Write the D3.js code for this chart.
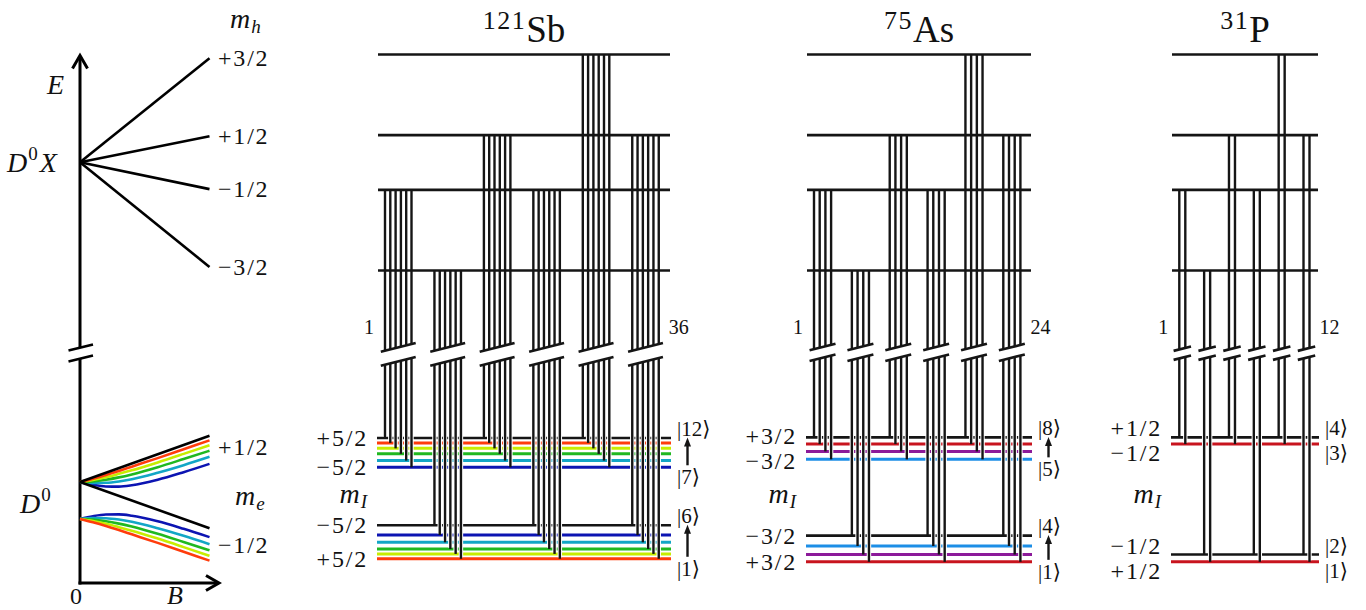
<!DOCTYPE html>
<html>
<head>
<meta charset="utf-8">
<script src="https://cdn.jsdelivr.net/npm/d3@7"></script>
<style>
  html, body { margin: 0; padding: 0; background: #fff; }
  svg { display: block; }
  text, tspan { font-family: "Liberation Serif", "DejaVu Serif", serif; fill: #111; }
</style>
</head>
<body>
<svg id="chart" width="1366" height="610"></svg>
<script>
// ---------------- data ----------------
// D0X hole Zeeman levels (arb. units, relative to zero field)
const mhLabels = ["+3/2", "+1/2", "\u22121/2", "\u22123/2"];
const mhEnergy = [104, 26, -27, -105];

// D0 Breit-Rabi fan for 121Sb (field in arb. units, energy in units of A/2)
const bField = [0, 0.25, 0.5, 0.75, 1, 1.5, 2, 2.5];
const d0StretchUp = [0, 2.5];          // m_e=+1/2, m_I=+5/2 (linear)
const d0StretchDown = [0, -2.5];       // m_e=-1/2, m_I=-5/2 (linear)
const d0UpperRed    = [0, 0.18, 0.38, 0.60, 0.83, 1.29, 1.77, 2.25];
const d0UpperYellow = [0, 0.11, 0.26, 0.44, 0.63, 1.06, 1.52, 1.99];
const d0UpperGreen  = [0, 0.03, 0.12, 0.25, 0.41, 0.80, 1.24, 1.69];
const d0UpperCyan   = [0, -0.05, -0.04, 0.03, 0.15, 0.50, 0.91, 1.36];
const d0UpperBlue   = [0, -0.15, -0.24, -0.25, -0.18, 0.12, 0.53, 0.98];
const d0LowerBlue   = [-2, -1.85, -1.76, -1.75, -1.82, -2.12, -2.53, -2.98];
const d0LowerCyan   = [-2, -1.95, -1.96, -2.03, -2.15, -2.50, -2.91, -3.36];
const d0LowerGreen  = [-2, -2.03, -2.12, -2.25, -2.41, -2.80, -3.24, -3.69];
const d0LowerYellow = [-2, -2.11, -2.26, -2.44, -2.63, -3.06, -3.52, -3.99];
const d0LowerRed    = [-2, -2.18, -2.38, -2.60, -2.83, -3.29, -3.77, -4.25];

// isotopes
const isoMass = ["121", "75", "31"];
const isoElem = ["Sb", "As", "P"];

// ground-state levels |1>..|2(2I+1)> (arb. units), bottom to top
const sbLevelE = [1, 5, 9, 14.5, 20.5, 28.5, 76, 81.5, 87, 91.5, 96, 100];
const asLevelE = [-1.5, 4.5, 11.5, 20, 82.5, 89, 95, 100.5];
const pLevelE  = [-1.5, 4.5, 95, 100.5];

// nuclear spin labels: top, second, second-lowest, lowest
const sbMI = ["+5/2", "\u22125/2", "\u22125/2", "+5/2"];
const asMI = ["+3/2", "\u22123/2", "\u22123/2", "+3/2"];
const pMI  = ["+1/2", "\u22121/2", "\u22121/2", "+1/2"];

// transition bundles, left to right: hole level and electron manifold (1: +1/2, 0: -1/2)
const groupHole   = [2, 3, 1, 2, 0, 1];
const groupBranch = [1, 0, 1, 0, 1, 0];

// ---------------- colours ----------------
const INK = "#151515";
const RED = "#ff3c0c", YEL = "#c8ec00", GRN = "#20b820", CYN = "#12a6c6", BLU = "#0c14b2";
const DRED = "#c8141e", PUR = "#8c1a9a", LBLU = "#1c8ee6";
const sbLevelColor = [RED, YEL, GRN, CYN, BLU, INK, BLU, CYN, GRN, YEL, RED, INK];
const asLevelColor = [DRED, PUR, LBLU, INK, LBLU, PUR, DRED, INK];
const pLevelColor  = [DRED, INK, DRED, INK];

const svg = d3.select("#chart");

function rich(sel, x, y, parts, anchor) {
  const t = sel.append("text").attr("x", x).attr("y", y)
    .attr("text-anchor", anchor || "start");
  parts.forEach(p => {
    const s = t.append("tspan").text(p.t).attr("font-size", p.size || 24);
    if (p.it) s.attr("font-style", "italic");
    if (p.dy) s.attr("dy", p.dy);
    if (p.dx) s.attr("dx", p.dx);
    if (p.ls) s.attr("letter-spacing", p.ls);
  });
  return t;
}
const frac = s => [{ t: s, ls: 1.8 }];

// ---------------- left panel: energy vs field ----------------
const L = svg.append("g");
const xB = d3.scaleLinear().domain([0, 2.5]).range([80, 209.5]);
const yX = d3.scaleLinear().domain([-105, 104]).range([267, 58.3]);
const yD = d3.scaleLinear().domain([-5, 3]).range([574.5, 426.5]);

const ax = xB(0);
// energy axis, broken between the two manifolds
L.append("line").attr("x1", ax).attr("x2", ax).attr("y1", 56).attr("y2", 347.5)
  .attr("stroke", "#000").attr("stroke-width", 3);
L.append("line").attr("x1", ax).attr("x2", ax).attr("y1", 358.6).attr("y2", 584.5)
  .attr("stroke", "#000").attr("stroke-width", 3);
L.append("path").attr("d", `M${ax - 7.5},68.5 L${ax},55.5 L${ax + 7.5},68.5`)
  .attr("fill", "none").attr("stroke", "#000").attr("stroke-width", 3);
L.append("path").attr("d", `M${ax - 11.5},350.6 L${ax + 13},344.4 M${ax - 11.5},361.6 L${ax + 13},355.6`)
  .attr("fill", "none").attr("stroke", "#000").attr("stroke-width", 2.6);
// field axis
L.append("line").attr("x1", ax - 1.5).attr("x2", 218).attr("y1", 583).attr("y2", 583)
  .attr("stroke", "#000").attr("stroke-width", 3);
L.append("path").attr("d", "M206,575.5 L219,583 L206,590.5")
  .attr("fill", "none").attr("stroke", "#000").attr("stroke-width", 3);

// D0X hole levels fanning out
mhEnergy.forEach((e, i) => {
  L.append("line").attr("x1", xB(0)).attr("y1", yX(0))
    .attr("x2", xB(2.5)).attr("y2", yX(e))
    .attr("stroke", "#000").attr("stroke-width", 2.6);
  rich(L, 218, yX(e) + 8, frac(mhLabels[i]));
});
rich(L, 230, 28, [{ t: "m", it: true, size: 28 }, { t: "h", it: true, size: 19, dy: 5, dx: 1 }]);
rich(L, 47, 94, [{ t: "E", it: true, size: 28 }]);
rich(L, 7, 172, [{ t: "D", it: true, size: 28 }, { t: "0", size: 19, dy: -12, dx: 1 }, { t: "X", it: true, size: 28, dy: 12, dx: 2 }]);

// D0 Breit-Rabi curves
const fan = d3.line().x((d, i) => xB(bField[i])).y(d => yD(d)).curve(d3.curveMonotoneX);
const fanSeries = [
  [d0LowerBlue, BLU], [d0LowerCyan, CYN], [d0LowerGreen, GRN], [d0LowerYellow, YEL], [d0LowerRed, RED],
  [d0UpperBlue, BLU], [d0UpperCyan, CYN], [d0UpperGreen, GRN], [d0UpperYellow, YEL], [d0UpperRed, RED]
];
fanSeries.forEach(([vals, c]) => {
  L.append("path").attr("d", fan(vals)).attr("fill", "none")
    .attr("stroke", c).attr("stroke-width", 2.6);
});
[d0StretchUp, d0StretchDown].forEach(v => {
  L.append("line").attr("x1", xB(0)).attr("y1", yD(v[0]))
    .attr("x2", xB(2.5)).attr("y2", yD(v[1]))
    .attr("stroke", "#000").attr("stroke-width", 2.6);
});
rich(L, 218, 455, frac("+1/2"));
rich(L, 218, 553, frac("\u22121/2"));
rich(L, 235, 505, [{ t: "m", it: true, size: 28 }, { t: "e", it: true, size: 19, dy: 5, dx: 1 }]);
rich(L, 20, 513, [{ t: "D", it: true, size: 28 }, { t: "0", size: 19, dy: -12, dx: 1 }]);
rich(L, 76, 604, [{ t: "0", size: 24 }], "middle");
rich(L, 167, 604, [{ t: "B", it: true, size: 26 }]);

// ---------------- right panels: optical transitions ----------------
const yH = d3.scaleLinear().domain([-105, 104]).range([270.5, 54.5]);   // excited (hole) levels
const yG = d3.scaleLinear().domain([0, 100]).range([560, 438]);          // ground hyperfine levels

const panels = [
  { mass: isoMass[0], elem: isoElem[0], E: sbLevelE, col: sbLevelColor, mI: sbMI,
    x0: 377, x1: 671, first: 385, gStep: 49.45, lStep: 5.3, yc: 354.4, gap: 14, pad: 4.2, arrows: true },
  { mass: isoMass[1], elem: isoElem[1], E: asLevelE, col: asLevelColor, mI: asMI,
    x0: 806, x1: 1032, first: 814, gStep: 37.86, lStep: 5.7, yc: 352.4, gap: 10.6, pad: 4.4, arrows: true },
  { mass: isoMass[2], elem: isoElem[2], E: pLevelE, col: pLevelColor, mI: pMI,
    x0: 1171, x1: 1319, first: 1179.3, gStep: 24.84, lStep: 6, yc: 353.2, gap: 9, pad: 5.7, arrows: false }
];

panels.forEach(p => {
  const g = svg.append("g");
  const n = p.E.length / 2;
  const xMid = (p.x0 + p.x1) / 2;

  // title
  rich(g, xMid, 42, [{ t: p.mass, size: 26, dy: -13, ls: 1.5 }, { t: p.elem, size: 37, dy: 13 }], "middle");

  // ground levels
  p.E.forEach((e, i) => {
    g.append("line").attr("x1", p.x0).attr("x2", p.x1)
      .attr("y1", yG(e)).attr("y2", yG(e))
      .attr("stroke", p.col[i]).attr("stroke-width", p.col[i] === INK ? 2.6 : 3);
  });

  // transitions
  const xg = d3.scaleLinear().domain([0, 5]).range([p.first, p.first + 5 * p.gStep]);
  const segs = [];
  const breaks = [];
  groupHole.forEach((h, gi) => {
    const states = d3.range(n).map(k => groupBranch[gi] ? 2 * n - 1 - k : n - 1 - k);
    const gx0 = xg(gi), gx1 = xg(gi) + (n - 1) * p.lStep;
    const gm = (gx0 + gx1) / 2;
    const yU = x => p.yc - p.gap / 2 - 0.25 * (x - gm);
    const yL = x => p.yc + p.gap / 2 - 0.25 * (x - gm);
    states.forEach((s, k) => {
      const x = gx0 + k * p.lStep;
      segs.push({ x, y1: yH(mhEnergy[h]), y2: yU(x) });
      segs.push({ x, y1: yL(x), y2: yG(p.E[s]) });
    });
    breaks.push({ xa: gx0 - p.pad, xb: gx1 + p.pad, ya: yU(gx0 - p.pad), yb: yU(gx1 + p.pad) });
    breaks.push({ xa: gx0 - p.pad, xb: gx1 + p.pad, ya: yL(gx0 - p.pad), yb: yL(gx1 + p.pad) });
  });
  // white casing so that crossing ground levels are visibly interrupted
  g.append("g").selectAll("line").data(segs).join("line")
    .attr("x1", d => d.x).attr("x2", d => d.x)
    .attr("y1", d => d.y1 + 1.6).attr("y2", d => d.y2 - 1.6)
    .attr("stroke", "#fff").attr("stroke-width", 4.4);

  // excited levels (drawn over the casing so they stay continuous)
  mhEnergy.forEach(e => {
    g.append("line").attr("x1", p.x0 + 1).attr("x2", p.x1 - 1)
      .attr("y1", yH(e)).attr("y2", yH(e))
      .attr("stroke", INK).attr("stroke-width", 2.6);
  });

  g.append("g").selectAll("line").data(segs).join("line")
    .attr("x1", d => d.x).attr("x2", d => d.x)
    .attr("y1", d => d.y1).attr("y2", d => d.y2)
    .attr("stroke", INK).attr("stroke-width", 2.4);
  g.append("g").selectAll("line").data(breaks).join("line")
    .attr("x1", d => d.xa).attr("x2", d => d.xb)
    .attr("y1", d => d.ya).attr("y2", d => d.yb)
    .attr("stroke", INK).attr("stroke-width", 2.6);

  // transition numbering
  const nTrans = 6 * n;
  rich(g, p.first - 16, 334, [{ t: "1", size: 20 }], "middle");
  rich(g, xg(5) + (n - 1) * p.lStep + 20, 334, [{ t: String(nTrans), size: 20 }], "middle");

  // m_I labels
  const lx = p.x0 - 9;
  [[p.E[2 * n - 1], p.E[n]], [p.E[n - 1], p.E[0]]].forEach(([eTop, eBot], bi) => {
    const yt = yG(eTop), yb = yG(eBot), ym = (yt + yb) / 2;
    const lt = Math.min(yt, ym - 12.5), lb = Math.max(yb, ym + 12.5);
    rich(g, lx, lt + 8, frac(p.mI[bi * 2]), "end");
    rich(g, lx, lb + 8, frac(p.mI[bi * 2 + 1]), "end");
    // kets
    const kTop = bi === 0 ? 2 * n : n, kBot = bi === 0 ? n + 1 : 1;
    const ktY = p.arrows ? yt - 9.5 : lt, kbY = p.arrows ? yb + 10 : lb;
    const kx = p.x1 + 6;
    rich(g, kx, ktY + 7, [{ t: "|" + kTop + "\u27E9", size: 21 }]);
    rich(g, kx, kbY + 7, [{ t: "|" + kBot + "\u27E9", size: 21 }]);
    if (p.arrows) {
      const axx = kx + 10.5;
      g.append("line").attr("x1", axx).attr("x2", axx)
        .attr("y1", kbY - 12).attr("y2", ktY + 16)
        .attr("stroke", INK).attr("stroke-width", 2.4);
      g.append("path")
        .attr("d", `M${axx},${ktY + 9} L${axx - 3.5},${ktY + 18} L${axx + 3.5},${ktY + 18} Z`)
        .attr("fill", INK);
    }
  });
  rich(g, p.x0 - 10, 503, [{ t: "m", it: true, size: 28 }, { t: "I", it: true, size: 19, dy: 5, dx: 1 }], "end");
});
</script>
</body>
</html>
